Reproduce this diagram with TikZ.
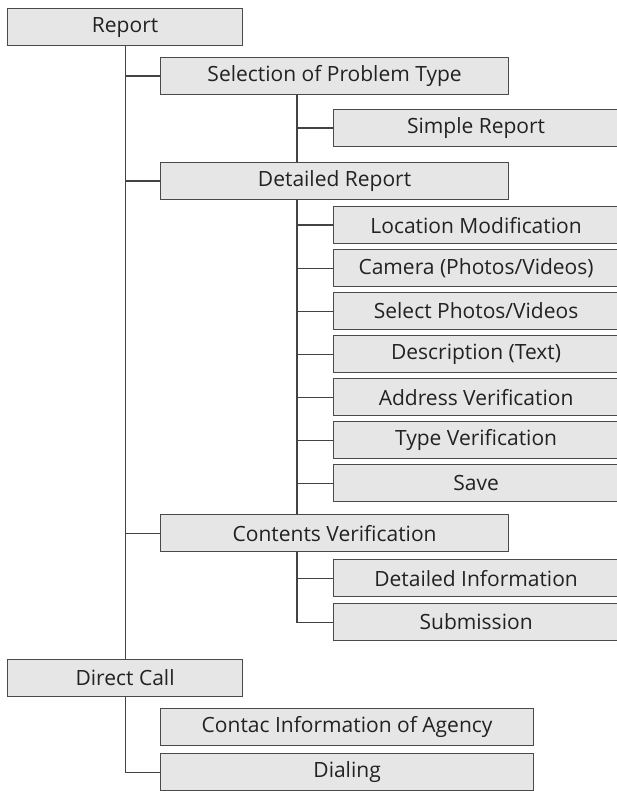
\documentclass[tikz,border=0pt]{standalone}
\usepackage{fontspec}
\setmainfont{Open Sans}
\usetikzlibrary{positioning}
\definecolor{boxfill}{HTML}{E6E6E6}
\definecolor{boxline}{HTML}{4A4A4A}
\definecolor{ink}{HTML}{222222}

\begin{document}
\begin{tikzpicture}[
    x=1pt, y=-1pt,
    every node/.style={font=\fontsize{21}{24}\selectfont, text=ink},
    item/.style={rectangle, draw=boxline, fill=boxfill, line width=1.2pt, minimum height=37pt, anchor=north west, inner sep=0pt},
    top/.style={item, minimum width=235pt},
    mid/.style={item, minimum width=348pt},
    sub/.style={item, minimum width=285pt},
    wide/.style={item, minimum width=373pt},
    link/.style={-, line width=1.2pt, draw=boxline!90!black}
]
    \useasboundingbox (0,0) rectangle (616,791);

    % Top level
    \node[top] (report) at (7,8) {Report};
    \node[top] (dcall) at (7,659) {Direct Call};

    % Second level under Report
    \node[mid] (sel) at (160,57) {Selection of Problem Type};
    \node[mid] (det) at (160,162) {Detailed Report};
    \node[mid] (cont) at (160,514) {Contents Verification};

    % Leaves
    \node[sub] (simple) at (333,109) {Simple Report};
    \foreach \n/\t [count=\i from 0] in {loc/{Location Modification}, cam/{Camera (Photos/Videos)}, pick/{Select Photos/Videos}, desc/{Description (Text)}, addr/{Address Verification}, type/{Type Verification}, save/{Save}} {
        \node[sub] (\n) at (333,206+43*\i) {\t};
    }
    \node[sub] (dinfo) at (333,559) {Detailed Information};
    \node[sub] (submit) at (333,603) {Submission};

    % Under Direct Call
    \node[wide] (agency) at (160,708) {Contac Information of Agency};
    \node[wide] (dial) at (160,753) {Dialing};

    % Trunk from Report
    \draw[link] (report.south) -- (dcall.north);
    \foreach \n in {sel, det, cont} {
        \draw[link] (report.south) |- (\n.west);
    }

    % Branches
    \draw[link] ([xshift=137pt]sel.south west) -- ([xshift=137pt]det.north west);
    \draw[link] ([xshift=137pt]sel.south west) |- (simple.west);
    \draw[link] ([xshift=137pt]det.south west) -- ([xshift=137pt]cont.north west);
    \foreach \n in {loc, cam, pick, desc, addr, type, save} {
        \draw[link] ([xshift=137pt]det.south west) |- (\n.west);
    }
    \foreach \n in {dinfo, submit} {
        \draw[link] ([xshift=137pt]cont.south west) |- (\n.west);
    }
    \draw[link] (dcall.south) |- (dial.west);

\end{tikzpicture}
\end{document}
